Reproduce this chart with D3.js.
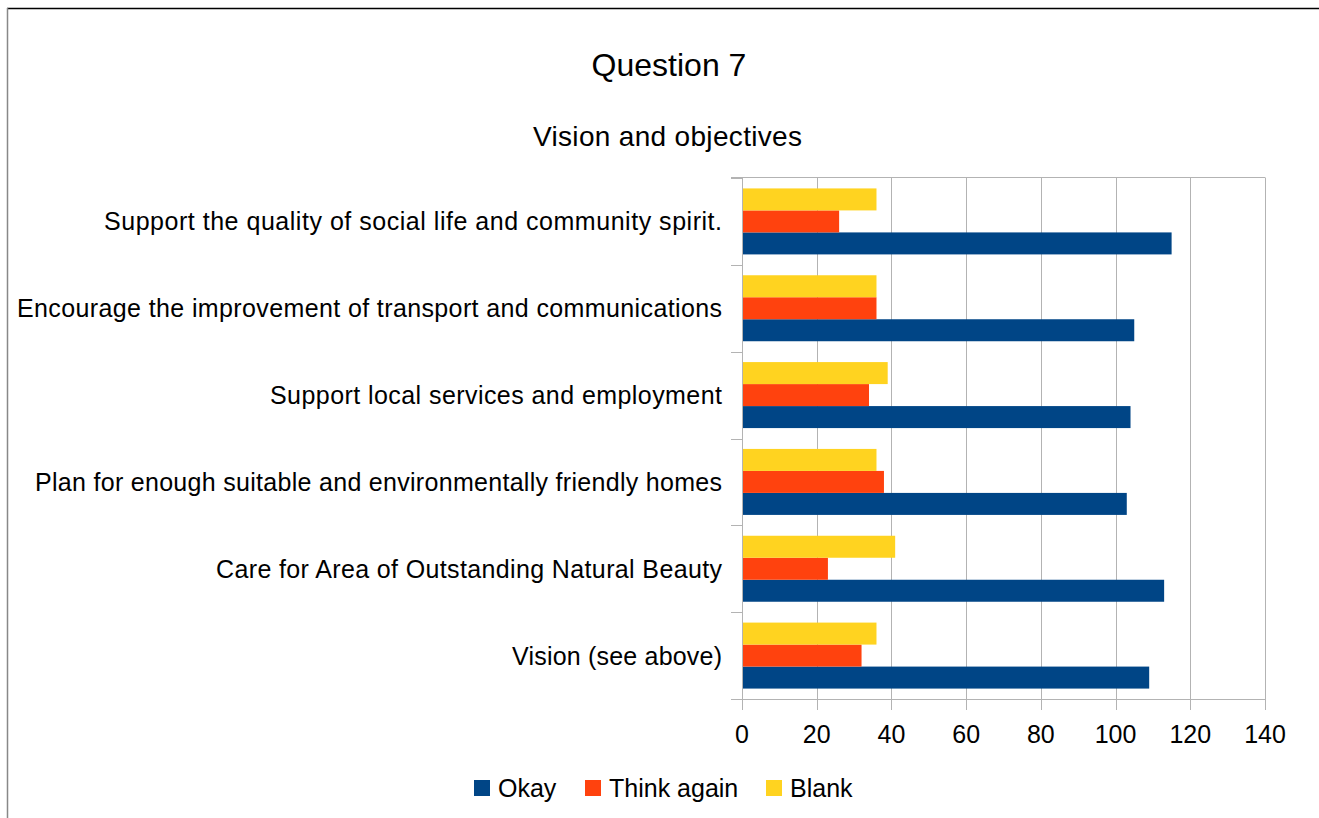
<!DOCTYPE html>
<html><head><meta charset="utf-8">
<script src="https://cdn.jsdelivr.net/npm/d3@7"></script>
<style>body{margin:0;background:#fff;}svg{display:block;}text{font-family:"Liberation Sans",Arial,sans-serif;fill:#000;}</style>
</head><body>
<svg id="c" width="1319" height="818"></svg>
<script>
const categories = [
  "Vision (see above)",
  "Care for Area of Outstanding Natural Beauty",
  "Plan for enough suitable and environmentally friendly homes",
  "Support local services and employment",
  "Encourage the improvement of transport and communications",
  "Support the quality of social life and community spirit."
];
const seriesNames = ["Okay", "Think again", "Blank"];
const okay = [109, 113, 103, 104, 105, 115];
const thinkAgain = [32, 23, 38, 34, 36, 26];
const blank = [36, 41, 36, 39, 36, 36];
const xTicks = [0, 20, 40, 60, 80, 100, 120, 140];
const colors = ["#004586", "#ff420e", "#ffd320"];
const seriesValues = [okay, thinkAgain, blank];
// rendered label widths in the reference (px), used as textLength
const labelWidths = [210, 506, 687, 452, 705, 618];

const svg = d3.select("#c");
const L = 742, R = 1265, T = 178, B = 699;

// frame
svg.append("line").attr("x1",7).attr("x2",1319).attr("y1",8.5).attr("y2",8.5).attr("stroke","#000").attr("stroke-width",1.5);
svg.append("line").attr("x1",7.5).attr("x2",7.5).attr("y1",8).attr("y2",818).attr("stroke","#888").attr("stroke-width",1.5);

svg.append("text").attr("x",669).attr("y",76).attr("text-anchor","middle").style("font-size","32px").text("Question 7");
svg.append("text").attr("x",533).attr("y",146).attr("textLength",269).attr("lengthAdjust","spacing").style("font-size","28px").text("Vision and objectives");

const x = d3.scaleLinear().domain([0,140]).range([L,R]);
const y = d3.scaleBand().domain(categories.slice().reverse()).range([T,B]).padding(0);
const sub = d3.scaleBand().domain(seriesNames.slice().reverse()).range([y.bandwidth()*0.12, y.bandwidth()*0.88]);

// gridlines
svg.append("g").selectAll("line").data(xTicks).join("line")
  .attr("x1",d=>Math.round(x(d))+0.5).attr("x2",d=>Math.round(x(d))+0.5)
  .attr("y1",T).attr("y2",B+11).attr("stroke","#b3b3b3").attr("stroke-width",1);
// top line
svg.append("line").attr("x1",L-11).attr("x2",R+0.5).attr("y1",T-0.5).attr("y2",T-0.5).attr("stroke","#b3b3b3");
// bottom axis
svg.append("line").attr("x1",L-11).attr("x2",R+0.5).attr("y1",B+0.5).attr("y2",B+0.5).attr("stroke","#b3b3b3");
// category ticks
const bounds = categories.map(c=>y(c));
svg.append("g").selectAll("line").data(bounds).join("line")
  .attr("x1",L-11).attr("x2",L).attr("y1",d=>Math.round(d)+0.5).attr("y2",d=>Math.round(d)+0.5).attr("stroke","#b3b3b3");
// left axis line
svg.append("line").attr("x1",L+0.5).attr("x2",L+0.5).attr("y1",T).attr("y2",B).attr("stroke","#b3b3b3");

// bars
categories.forEach((c,i)=>{
  seriesNames.forEach((s,j)=>{
    svg.append("rect")
      .attr("x",x(0)+1)
      .attr("y",y(c)+sub(s))
      .attr("width",x(seriesValues[j][i])-x(0)-1)
      .attr("height",sub.bandwidth())
      .attr("fill",colors[j]);
  });
});

// category labels
svg.append("g").selectAll("text").data(categories).join("text")
  .attr("x",(d,i)=>722-labelWidths[i]).attr("y",d=>y(d)+y.bandwidth()/2+9)
  .attr("textLength",(d,i)=>labelWidths[i]).attr("lengthAdjust","spacing")
  .style("font-size","25px").text(d=>d);

// x tick labels
svg.append("g").selectAll("text").data(xTicks).join("text")
  .attr("x",d=>x(d)).attr("y",743).attr("text-anchor","middle").style("font-size","25px").text(d=>d);

// legend
const legX = [474, 585, 766];
seriesNames.forEach((s,j)=>{
  svg.append("rect").attr("x",legX[j]).attr("y",780).attr("width",16).attr("height",16).attr("fill",colors[j]);
  svg.append("text").attr("x",legX[j]+24).attr("y",797).style("font-size","25px").text(s);
});
</script>
</body></html>
